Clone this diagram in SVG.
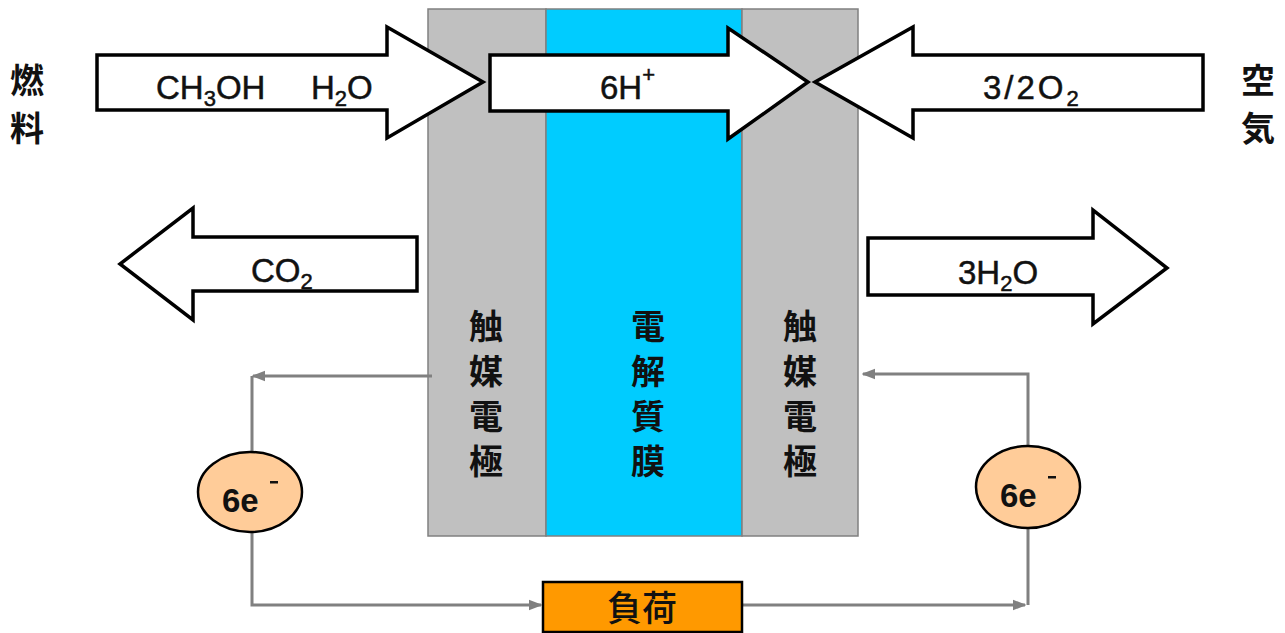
<svg xmlns="http://www.w3.org/2000/svg" width="1285" height="633" viewBox="0 0 1285 633">
<style>
.big{fill:#fff;stroke:#000;stroke-width:3.5;stroke-linejoin:miter}
.f{font-family:"Liberation Sans",Arial,sans-serif;font-size:33px;fill:#111;stroke:#111;stroke-width:0.5}
.sub{font-size:22px}
.e{font-family:"Liberation Sans",Arial,sans-serif;font-size:33px;font-weight:bold;fill:#111}
.jp{font-family:"Noto Sans CJK JP","Noto Sans CJK SC",sans-serif;font-size:34px;font-weight:bold;fill:#111;text-anchor:middle}
.wire{fill:none;stroke:#808080;stroke-width:3}
</style>
<defs>
<marker id="ah" viewBox="0 0 10 10" refX="9" refY="5" markerWidth="4.5" markerHeight="4.5" orient="auto" markerUnits="strokeWidth">
<path d="M0,1 L10,5 L0,9 Z" fill="#808080"/>
</marker>
</defs>
<rect width="1285" height="633" fill="#fff"/>

<g id="cell">
<rect id="anode" x="428" y="9" width="118" height="527" fill="#C0C0C0" stroke="#808080" stroke-width="1.5"/>
<rect id="membrane" x="546" y="9" width="196" height="527" fill="#00CCFF" stroke="#808080" stroke-width="1.5"/>
<rect id="cathode" x="742" y="9" width="116" height="527" fill="#C0C0C0" stroke="#808080" stroke-width="1.5"/>
<text class="jp" x="486" y="339">触</text><text class="jp" x="486" y="384">媒</text><text class="jp" x="486" y="429">電</text><text class="jp" x="486" y="474">極</text>
<text class="jp" x="648" y="339">電</text><text class="jp" x="648" y="384">解</text><text class="jp" x="648" y="429">質</text><text class="jp" x="648" y="474">膜</text>
<text class="jp" x="800" y="339">触</text><text class="jp" x="800" y="384">媒</text><text class="jp" x="800" y="429">電</text><text class="jp" x="800" y="474">極</text>
</g>

<g id="label-fuel"><text class="jp" x="27" y="93">燃</text><text class="jp" x="27" y="141">料</text></g>
<g id="label-air"><text class="jp" x="1258" y="93">空</text><text class="jp" x="1258" y="141">気</text></g>

<g id="arrow-fuel">
<path class="big" d="M97,55 H387 V27 L483,82 L387,138 V110 H97 Z"/>
<text class="f" x="156" y="99">CH<tspan class="sub" dy="7">3</tspan><tspan dy="-7">OH</tspan></text>
<text class="f" x="311" y="99">H<tspan class="sub" dy="7">2</tspan><tspan dy="-7">O</tspan></text>
</g>

<g id="arrow-proton">
<path class="big" d="M490,55 H728 V28 L808,82 L728,139 V111 H490 Z"/>
<text class="f" x="600" y="99">6H<tspan class="sub" dy="-17">+</tspan></text>
</g>

<g id="arrow-oxygen">
<path class="big" d="M1203,55 H913 V27 L815,82 L913,138 V110 H1203 Z"/>
<text class="f" x="983" y="99" letter-spacing="3">3/2O<tspan class="sub" dy="7" letter-spacing="0">2</tspan></text>
</g>

<g id="arrow-co2">
<path class="big" d="M417,237 H193 V208 L120,264 L193,320 V291 H417 Z"/>
<text class="f" x="251" y="282">CO<tspan class="sub" dy="7">2</tspan></text>
</g>

<g id="arrow-water">
<path class="big" d="M868,238 H1093 V210 L1167,268 L1093,324 V295 H868 Z"/>
<text class="f" x="958" y="284">3H<tspan class="sub" dy="7">2</tspan><tspan dy="-7">O</tspan></text>
</g>

<g id="connectors">
<path class="wire" d="M432,376 H253" marker-end="url(#ah)"/>
<path class="wire" d="M252,376 V605 H541" marker-end="url(#ah)"/>
<path class="wire" d="M742,605 H1025" marker-end="url(#ah)"/>
<path class="wire" d="M1028,605 V374 H863" marker-end="url(#ah)"/>
</g>

<g id="electron-left">
<ellipse cx="250" cy="492" rx="52" ry="40" fill="#FFCC99" stroke="#000" stroke-width="2.5"/>
<text class="e" x="222" y="512">6e</text>
<rect x="270" y="481" width="8" height="2.5" fill="#111"/>
</g>

<g id="electron-right">
<ellipse cx="1028" cy="487" rx="52" ry="41" fill="#FFCC99" stroke="#000" stroke-width="2.5"/>
<text class="e" x="1000" y="507">6e</text>
<rect x="1048" y="476" width="8" height="2.5" fill="#111"/>
</g>

<g id="load">
<rect x="543" y="582" width="199" height="50" fill="#FF9900" stroke="#000" stroke-width="2.5"/>
<text class="jp" x="642" y="621" style="font-weight:500;font-size:35px">負荷</text>
</g>
</svg>
